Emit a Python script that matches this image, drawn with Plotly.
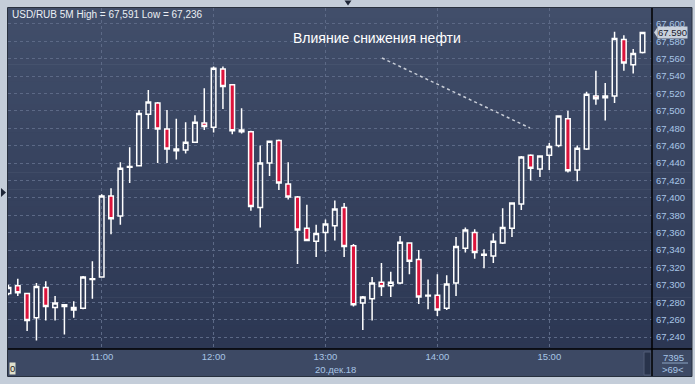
import pandas as pd
import plotly.graph_objects as go

# ---- data (USD/RUB, 5-minute candles, 20 Dec 2018) ----
start_time = "2018-12-20 10:10"
n_candles = 69
open_ = [67.290, 67.299, 67.290, 67.262, 67.297, 67.274, 67.275, 67.274, 67.273, 67.306,
         67.309, 67.402, 67.379, 67.435, 67.437, 67.496, 67.509, 67.479, 67.454, 67.455,
         67.464, 67.486, 67.481, 67.548, 67.530, 67.476, 67.476, 67.389, 67.440, 67.466,
         67.416, 67.401, 67.365, 67.350, 67.360, 67.368, 67.389, 67.345, 67.279, 67.284,
         67.303, 67.299, 67.302, 67.348, 67.329, 67.287, 67.288, 67.273, 67.302, 67.342,
         67.360, 67.334, 67.333, 67.348, 67.365, 67.393, 67.449, 67.433, 67.449, 67.460,
         67.491, 67.432, 67.456, 67.517, 67.515, 67.517, 67.582, 67.553, 67.567]
high = [67.300, 67.307, 67.291, 67.302, 67.304, 67.287, 67.278, 67.281, 67.310, 67.327,
        67.404, 67.411, 67.441, 67.458, 67.501, 67.524, 67.510, 67.501, 67.491, 67.487,
        67.495, 67.526, 67.551, 67.551, 67.530, 67.503, 67.477, 67.460, 67.466, 67.467,
        67.441, 67.402, 67.392, 67.369, 67.375, 67.397, 67.394, 67.347, 67.287, 67.309,
        67.325, 67.315, 67.356, 67.349, 67.340, 67.306, 67.312, 67.311, 67.355, 67.366,
        67.364, 67.341, 67.359, 67.388, 67.395, 67.448, 67.450, 67.449, 67.463, 67.495,
        67.500, 67.460, 67.522, 67.546, 67.532, 67.591, 67.587, 67.571, 67.591]
low = [67.288, 67.287, 67.247, 67.236, 67.259, 67.259, 67.243, 67.262, 67.272, 67.284,
       67.308, 67.358, 67.369, 67.417, 67.436, 67.479, 67.440, 67.440, 67.444, 67.451,
       67.463, 67.478, 67.475, 67.502, 67.473, 67.474, 67.385, 67.366, 67.425, 67.409,
       67.398, 67.324, 67.350, 67.332, 67.338, 67.351, 67.332, 67.275, 67.248, 67.259,
       67.287, 67.286, 67.301, 67.312, 67.278, 67.272, 67.264, 67.271, 67.287, 67.337,
       67.330, 67.319, 67.325, 67.347, 67.355, 67.386, 67.420, 67.424, 67.432, 67.458,
       67.429, 67.419, 67.455, 67.507, 67.489, 67.509, 67.546, 67.543, 67.566]
close = [67.297, 67.291, 67.259, 67.298, 67.275, 67.279, 67.277, 67.271, 67.309, 67.307,
         67.402, 67.376, 67.434, 67.436, 67.497, 67.510, 67.479, 67.456, 67.456, 67.464,
         67.487, 67.482, 67.549, 67.528, 67.477, 67.478, 67.390, 67.440, 67.465, 67.417,
         67.401, 67.363, 67.351, 67.359, 67.370, 67.387, 67.344, 67.277, 67.286, 67.302,
         67.298, 67.303, 67.349, 67.327, 67.286, 67.288, 67.271, 67.301, 67.344, 67.363,
         67.337, 67.335, 67.350, 67.366, 67.394, 67.447, 67.434, 67.448, 67.459, 67.494,
         67.431, 67.457, 67.519, 67.514, 67.517, 67.583, 67.555, 67.566, 67.590]

title_text = "USD/RUB 5M High = 67,591 Low = 67,236"
note_text = "Влияние снижения нефти"
date_label = "20.дек.18"
volume_label = "7395"
count_label = ">69<"

times = pd.date_range(start_time, periods=n_candles, freq="5min")

W, H = 695, 384
L, R, T, B = 8, 652, 8, 349   # plot area in pixels


def px(x):
    return (x - L) / (R - L)


def py(y):
    return (B - y) / (B - T)


fig = go.Figure()
fig.add_trace(go.Candlestick(
    x=times, open=open_, high=high, low=low, close=close,
    increasing=dict(line=dict(color="white", width=1.5), fillcolor="rgba(0,0,0,0)"),
    decreasing=dict(line=dict(color="white", width=1.5), fillcolor="#dc143c"),
    whiskerwidth=0, hoverinfo="skip", showlegend=False,
))

shapes = []
# gradient background bands (plot + right axis panel)
nb = 60
top_c = (65, 78, 106)
bot_c = (44, 55, 83)
for i in range(nb):
    t = i / (nb - 1)
    c = tuple(int(round(top_c[k] + (bot_c[k] - top_c[k]) * t)) for k in range(3))
    y0 = 1 - i / nb
    y1 = 1 - (i + 1) / nb
    shapes.append(dict(type="rect", xref="paper", yref="paper", x0=0, x1=px(692),
                       y0=y1, y1=y0 + 0.002, fillcolor="rgb(%d,%d,%d)" % c,
                       line=dict(width=0), layer="below"))
# bottom time panel
shapes.append(dict(type="rect", xref="paper", yref="paper", x0=0, x1=px(692),
                   y0=py(376), y1=0, fillcolor="rgb(61,73,100)", line=dict(width=0), layer="below"))
# scroll bar block
shapes.append(dict(type="rect", xref="paper", yref="paper", x0=px(644), x1=px(651),
                   y0=py(375), y1=py(352), fillcolor="rgb(40,51,75)",
                   line=dict(width=1, color="rgb(80,92,118)"), layer="below"))
# outer frame
shapes.append(dict(type="rect", xref="paper", yref="paper", x0=px(7.5), x1=px(692),
                   y0=py(376.5), y1=py(7.5), line=dict(width=1, color="rgb(40,48,62)"),
                   fillcolor="rgba(0,0,0,0)", layer="above"))
# separators
shapes.append(dict(type="line", xref="paper", yref="paper", x0=0, x1=px(692), y0=0, y1=0,
                   line=dict(color="black", width=1.5), layer="above"))
shapes.append(dict(type="line", xref="paper", yref="paper", x0=1, x1=1, y0=py(376), y1=1,
                   line=dict(color="black", width=1.5), layer="above"))
# count separator line
shapes.append(dict(type="line", xref="paper", yref="paper", x0=px(662), x1=px(688),
                   y0=py(363), y1=py(363), line=dict(color="rgb(140,165,195)", width=1)))
# dotted annotation line
shapes.append(dict(type="line", xref="paper", yref="paper", x0=px(382), y0=py(58),
                   x1=px(530), y1=py(128), line=dict(color="rgb(200,205,215)", width=1.5, dash="dot")))
# nav triangles
shapes.append(dict(type="path", xref="paper", yref="paper",
                   path="M %f,%f L %f,%f L %f,%f Z" % (px(344.5), py(0.5), px(351.5), py(0.5), px(348), py(5.5)),
                   fillcolor="rgb(30,38,55)", line=dict(width=0)))
shapes.append(dict(type="path", xref="paper", yref="paper",
                   path="M %f,%f L %f,%f L %f,%f Z" % (px(1), py(188), px(1), py(197), px(6), py(192.5)),
                   fillcolor="rgb(30,38,55)", line=dict(width=0)))
# price marker arrow
shapes.append(dict(type="path", xref="paper", yref="y",
                   path="M %f,%f L %f,%f L %f,%f Z" % (px(654), close[-1], px(657.5), close[-1] + 0.006,
                                                       px(657.5), close[-1] - 0.006),
                   fillcolor="rgb(201,209,220)", line=dict(width=0)))

lab_col = "rgb(168,197,230)"
annotations = [
    dict(text=title_text, xref="paper", yref="paper", x=px(10), y=py(15), xanchor="left",
         yanchor="middle", showarrow=False, font=dict(size=10, color="rgb(235,238,244)",
                                                      family="Liberation Sans")),
    dict(text=note_text, xref="paper", yref="paper", x=px(377), y=py(38), xanchor="center",
         yanchor="middle", showarrow=False, font=dict(size=14, color="white", family="Liberation Sans")),
    dict(text="%.3f" % close[-1], xref="paper", yref="y", x=px(657), y=close[-1],
         xanchor="left", yanchor="middle", showarrow=False, bgcolor="rgb(201,209,220)",
         borderpad=0, font=dict(size=9.5, color="rgb(25,32,45)", family="Liberation Sans")),
    dict(text=date_label, xref="paper", yref="paper", x=px(335), y=py(369), xanchor="center",
         yanchor="middle", showarrow=False, font=dict(size=9.5, color=lab_col, family="Liberation Sans")),
    dict(text=volume_label, xref="paper", yref="paper", x=px(673), y=py(357), xanchor="center",
         yanchor="middle", showarrow=False, font=dict(size=9.5, color=lab_col, family="Liberation Sans")),
    dict(text=count_label, xref="paper", yref="paper", x=px(673), y=py(369), xanchor="center",
         yanchor="middle", showarrow=False, font=dict(size=9.5, color=lab_col, family="Liberation Sans")),
    dict(text="0", xref="paper", yref="paper", x=px(8.5), y=py(368), xanchor="left",
         yanchor="middle", showarrow=False, bgcolor="rgb(225,225,205)", borderpad=0,
         font=dict(size=9.5, color="rgb(30,30,30)", family="Liberation Sans")),
]

grid_col = "rgb(92,105,134)"
fig.update_layout(
    width=W, height=H,
    margin=dict(l=L, r=W - R, t=T, b=H - B),
    paper_bgcolor="rgb(196,205,217)",
    plot_bgcolor="rgba(0,0,0,0)",
    separators=", ",
    shapes=shapes,
    annotations=annotations,
    showlegend=False,
    xaxis=dict(
        type="date",
        range=["2018-12-20 10:09:45", "2018-12-20 15:55:05"],
        rangeslider=dict(visible=False),
        tick0="2018-12-20 11:00", dtick=3600000, tickformat="%H:%M",
        showgrid=True, gridcolor=grid_col, griddash="3px,3px", gridwidth=1,
        ticks="", tickfont=dict(size=9.5, color=lab_col, family="Liberation Sans"),
        zeroline=False, showline=False, fixedrange=True,
    ),
    yaxis=dict(
        side="right",
        range=[67.2262, 67.6182],
        tick0=67.24, dtick=0.02, tickformat=".3f",
        showgrid=True, gridcolor=grid_col, griddash="3px,3px", gridwidth=1,
        ticks="", ticklabelstandoff=3,
        tickfont=dict(size=9.5, color=lab_col, family="Liberation Sans"),
        zeroline=False, showline=False, fixedrange=True,
    ),
)

fig.write_html("out.html", config=dict(displayModeBar=False),
               post_script="document.body.style.margin='0';document.body.style.overflow='hidden';")
